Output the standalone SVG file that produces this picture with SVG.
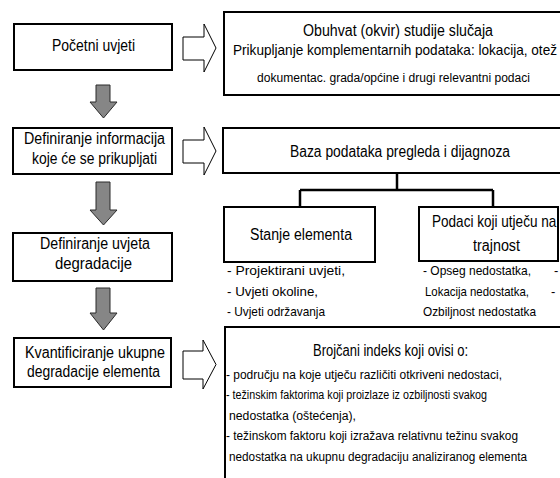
<svg xmlns="http://www.w3.org/2000/svg" width="560" height="478" viewBox="0 0 560 478">
  <style>
    .box { fill: #ffffff; stroke: #000000; stroke-width: 2; }
    .conn { fill: none; stroke: #000000; stroke-width: 2.5; }
    .down { fill: #868686; stroke: #2a2a2a; stroke-width: 1; }
    .right { fill: #ffffff; stroke: #000000; stroke-width: 1; }
    text { font-family: "Liberation Sans", Arial, sans-serif; fill: #000000; }
    .t16 { font-size: 16px; }
    .t14 { font-size: 14px; }
    .t13 { font-size: 13px; }
    .t12 { font-size: 12.5px; }
  </style>

  <!-- background -->
  <rect x="0" y="0" width="560" height="478" fill="#ffffff"/>

  <!-- left column: process steps -->
  <g id="step-pocetni">
    <rect class="box" x="14" y="24" width="158" height="46"/>
    <text class="t16" x="52" y="51" textLength="83" lengthAdjust="spacingAndGlyphs">Početni uvjeti</text>
  </g>
  <g id="step-informacije">
    <rect class="box" x="13" y="128" width="159" height="46"/>
    <text class="t16" x="24" y="143.5" textLength="141" lengthAdjust="spacingAndGlyphs">Definiranje informacija</text>
    <text class="t16" x="32" y="164" textLength="125" lengthAdjust="spacingAndGlyphs">koje će se prikupljati</text>
  </g>
  <g id="step-degradacija">
    <rect class="box" x="13" y="233" width="159" height="48"/>
    <text class="t16" x="40" y="248.5" textLength="110" lengthAdjust="spacingAndGlyphs">Definiranje uvjeta</text>
    <text class="t16" x="55" y="268.5" textLength="77" lengthAdjust="spacingAndGlyphs">degradacije</text>
  </g>
  <g id="step-kvantifikacija">
    <rect class="box" x="14" y="338" width="157" height="49"/>
    <text class="t16" x="25" y="357.5" textLength="140" lengthAdjust="spacingAndGlyphs">Kvantificiranje ukupne</text>
    <text class="t16" x="27" y="376.5" textLength="133" lengthAdjust="spacingAndGlyphs">degradacije elementa</text>
  </g>

  <!-- right column: content boxes -->
  <g id="box-obuhvat">
    <rect class="box" x="224" y="12" width="352" height="83"/>
    <text class="t16" x="303" y="36" textLength="190" lengthAdjust="spacingAndGlyphs">Obuhvat (okvir) studije slučaja</text>
    <!-- horizontally condensed line, kept inside the canvas -->
    <text class="t14" transform="translate(233,55) scale(0.9,1)" x="0" y="0" textLength="360" lengthAdjust="spacingAndGlyphs">Prikupljanje komplementarnih podataka: lokacija, otež</text>
    <text class="t12" x="257" y="82" textLength="273" lengthAdjust="spacingAndGlyphs">dokumentac. grada/općine i drugi relevantni podaci</text>
  </g>
  <g id="box-baza">
    <rect class="box" x="223" y="128" width="353" height="45"/>
    <text class="t16" x="290" y="157" textLength="220" lengthAdjust="spacingAndGlyphs">Baza podataka pregleda i dijagnoza</text>
  </g>
  <g id="box-stanje">
    <rect class="box" x="224" y="207" width="151" height="55"/>
    <text class="t16" x="250" y="240" textLength="102" lengthAdjust="spacingAndGlyphs">Stanje elementa</text>
    <text class="t13" x="227" y="275" textLength="118" lengthAdjust="spacingAndGlyphs">- Projektirani uvjeti,</text>
    <text class="t13" x="227" y="295.5" textLength="91" lengthAdjust="spacingAndGlyphs">- Uvjeti okoline,</text>
    <text class="t13" x="227" y="316" textLength="98" lengthAdjust="spacingAndGlyphs">- Uvjeti održavanja</text>
  </g>
  <g id="box-trajnost">
    <rect class="box" x="419" y="207" width="139" height="54"/>
    <text class="t16" transform="translate(432,227) scale(0.84,1)" x="0" y="0" textLength="148" lengthAdjust="spacingAndGlyphs">Podaci koji utječu na</text>
    <text class="t16" x="473" y="251" textLength="47" lengthAdjust="spacingAndGlyphs">trajnost</text>
    <text class="t13" x="423" y="275" textLength="108" lengthAdjust="spacingAndGlyphs">- Opseg nedostatka,</text>
    <text class="t13" x="425" y="295.5" textLength="104" lengthAdjust="spacingAndGlyphs">Lokacija nedostatka,</text>
    <text class="t13" x="423" y="316" textLength="113" lengthAdjust="spacingAndGlyphs">Ozbiljnost nedostatka</text>
    <text class="t13" x="554" y="275">-</text>
    <text class="t13" x="551" y="295.5">-</text>
  </g>
  <g id="box-indeks">
    <rect class="box" x="225" y="327" width="351" height="170"/>
    <text class="t16" x="313" y="355.5" textLength="155" lengthAdjust="spacingAndGlyphs">Brojčani indeks koji ovisi o:</text>
    <text class="t12" x="226" y="379" textLength="276" lengthAdjust="spacingAndGlyphs">- području na koje utječu različiti otkriveni nedostaci,</text>
    <text class="t12" x="226" y="399" textLength="261" lengthAdjust="spacingAndGlyphs">- težinskim faktorima koji proizlaze iz ozbiljnosti svakog</text>
    <text class="t12" x="229" y="419.5" textLength="127" lengthAdjust="spacingAndGlyphs">nedostatka (oštećenja),</text>
    <text class="t12" x="226" y="440" textLength="292" lengthAdjust="spacingAndGlyphs">- težinskom faktoru koji izražava relativnu težinu svakog</text>
    <text class="t12" x="229" y="460.5" textLength="298" lengthAdjust="spacingAndGlyphs">nedostatka na ukupnu degradaciju analiziranog elementa</text>
  </g>

  <!-- connectors -->
  <g id="connectors">
    <!-- gray block arrows between steps -->
    <polygon class="down" points="96,85 110,85 110,102 117,102 103.5,118 90,102 96,102"/>
    <polygon class="down" points="96,182 110,182 110,210 117,210 103.5,225 90,210 96,210"/>
    <polygon class="down" points="96,288 110,288 110,313 117,313 103.5,330 90,313 96,313"/>
    <!-- outlined block arrows towards content boxes -->
    <polygon class="right" points="183,37 204,37 204,24 216,48 204,72 204,60 183,60"/>
    <polygon class="right" points="183,140 204,140 204,127 216,151 204,175 204,163 183,163"/>
    <polygon class="right" points="183,351 203,351 203,340 216,364.5 203,389 203,379 183,379"/>
    <!-- tree from the database box -->
    <path class="conn" d="M397,173 V190 M300,190 H493 M300,190 V207 M493,190 V207"/>
  </g>
</svg>
